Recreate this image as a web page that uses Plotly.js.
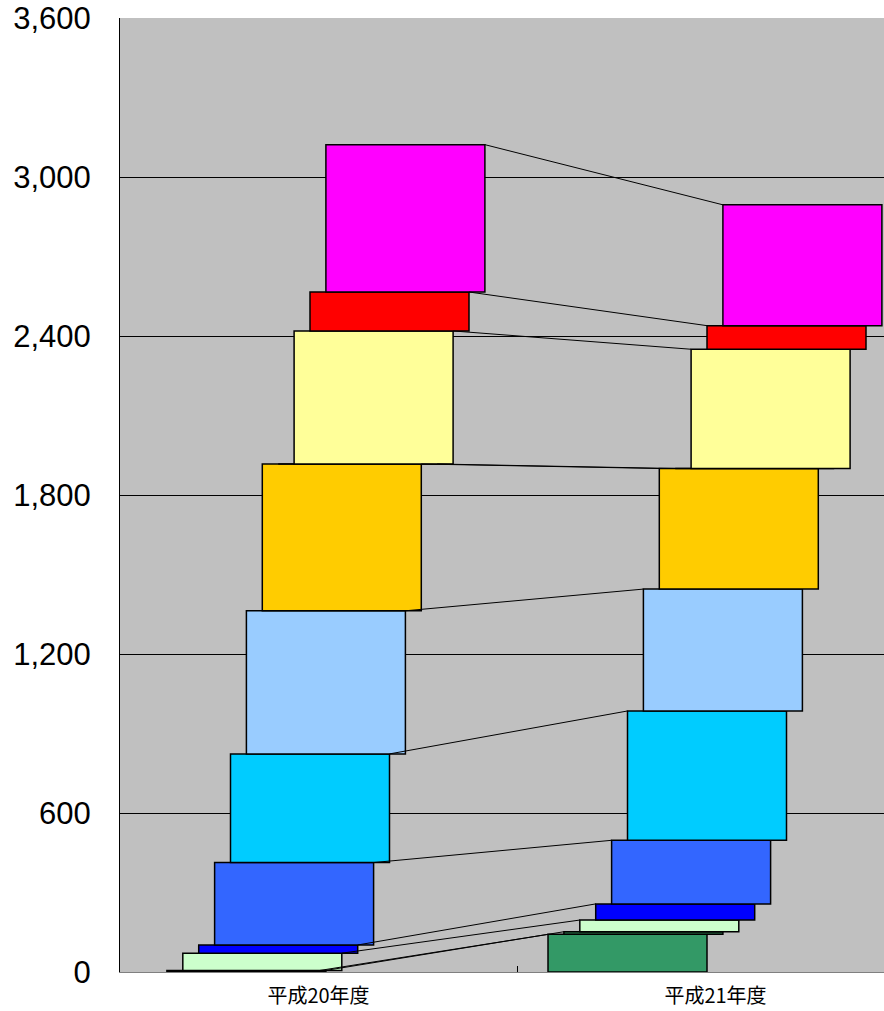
<!DOCTYPE html>
<html>
<head>
<meta charset="utf-8">
<script src="https://cdn.plot.ly/plotly-3.0.1.min.js"></script>
<style>html,body{margin:0;padding:0;background:#fff;overflow:hidden}</style>
</head>
<body>
<div id="chart" style="width:884px;height:1011px"></div>
<script>
// Categories
const categories = ["平成20年度", "平成21年度"];
// Series segment values (bottom to top), one array per year
const valuesH20 = [0, 6, 65, 31, 311, 410, 540, 554, 0, 502, 147, 556];
const valuesH21 = [142, 10, 44, 61, 240, 488, 460, 455, 0, 450, 89, 456];
// Series colours
const colors = ["#339966", "#2e7d4f", "#ccffcc", "#0000ff", "#3366ff", "#00ccff",
                "#99ccff", "#ffcc00", "#ff9900", "#ffff99", "#ff0000", "#ff00ff"];
// Y ticks
const yTicks = [0, 600, 1200, 1800, 2400, 3000, 3600];
const yTickText = ["0", "600", "1,200", "1,800", "2,400", "3,000", "3,600"];

// layout constants (category spacing = 1 unit)
const BAR_W = 0.4005;
const STEP = 0.04005;
const START = -0.4219;

function cumulative(arr) {
  const bases = [], tops = [];
  let s = 0;
  arr.forEach(v => { bases.push(s); s += v; tops.push(s); });
  return {bases, tops};
}
const c20 = cumulative(valuesH20);
const c21 = cumulative(valuesH21);

const traces = [];
// series lines (top-right of H20 bar to top-left of H21 bar)
valuesH20.forEach((v, i) => {
  const off = START + i * STEP;
  traces.push({
    type: "scatter", mode: "lines",
    x: [0 + off + BAR_W, 1 + off],
    y: [c20.tops[i], c21.tops[i]],
    line: {color: "#000", width: 1},
    hoverinfo: "skip", showlegend: false
  });
});
// bars
valuesH20.forEach((v, i) => {
  const off = START + i * STEP;
  const lw = [valuesH20[i] === 0 && c20.bases[i] === 0 ? 0 : 1.5,
              valuesH21[i] === 0 && c21.bases[i] === 0 ? 0 : 1.5];
  traces.push({
    type: "bar",
    x: [0, 1],
    y: [valuesH20[i], valuesH21[i]],
    base: [c20.bases[i], c21.bases[i]],
    offset: off,
    width: BAR_W,
    marker: {color: colors[i], line: {color: "#000", width: lw}},
    hoverinfo: "skip", showlegend: false
  });
});
// dummy trace on second x axis for the category divider tick
traces.push({type: "scatter", mode: "markers", x: [0.5], y: [0], xaxis: "x2",
  marker: {opacity: 0}, hoverinfo: "skip", showlegend: false});

const xRange = [-0.5, -0.5 + 764 / 397];
const layout = {
  width: 884, height: 1011,
  margin: {l: 120, r: 0, t: 18, b: 39},
  paper_bgcolor: "#ffffff",
  plot_bgcolor: "#c0c0c0",
  barmode: "overlay",
  showlegend: false,
  xaxis: {
    type: "linear", range: xRange, tickvals: [0, 1], ticktext: categories,
    ticks: "", showgrid: false, zeroline: false,
    showline: true, linecolor: "#808080", linewidth: 1,
    tickfont: {family: "Noto Sans CJK JP, sans-serif", size: 20, color: "#000"},
    ticklabelstandoff: 6, fixedrange: true
  },
  xaxis2: {
    type: "linear", range: xRange, overlaying: "x", tickvals: [0.5], ticktext: [""],
    ticks: "inside", ticklen: 6, tickcolor: "#000", showgrid: false, zeroline: false,
    showline: false, fixedrange: true
  },
  yaxis: {
    range: [0, 3600], tickvals: yTicks, ticktext: yTickText,
    showgrid: true, gridcolor: "#000", gridwidth: 1, zeroline: false,
    showline: true, linecolor: "#000", linewidth: 1, ticks: "",
    tickfont: {family: "Arial, Liberation Sans, sans-serif", size: 31, color: "#000"},
    ticklabelstandoff: 22, fixedrange: true
  }
};
Plotly.newPlot("chart", traces, layout, {staticPlot: true, displayModeBar: false});
</script>
</body>
</html>
